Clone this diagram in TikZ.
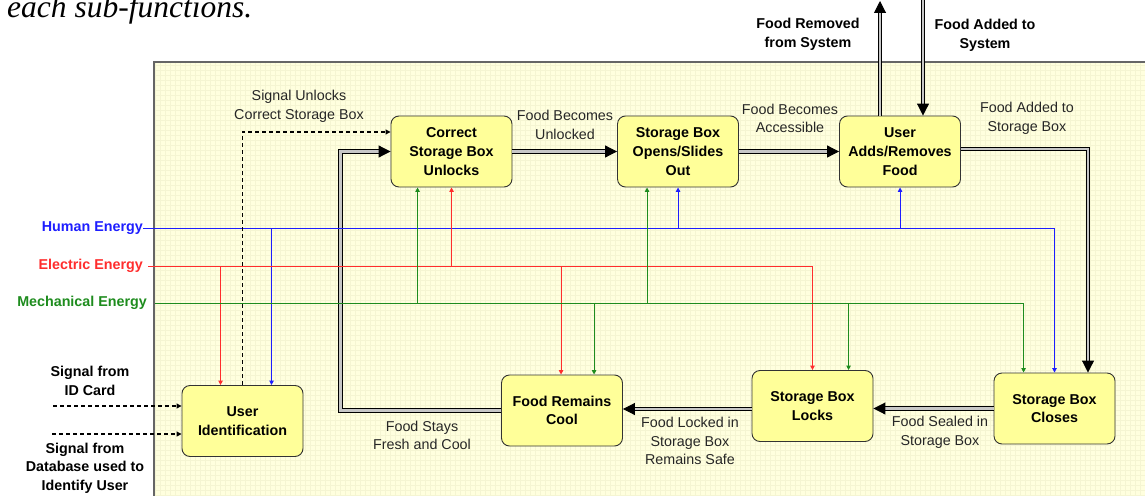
\documentclass[tikz,border=0pt]{standalone}
\usepackage{fontspec}
\setmainfont{Liberation Sans}
\newfontfamily\titleserif{Liberation Serif}
\usepackage{xcolor}
\usepackage{tikz}
\usetikzlibrary{arrows.meta}
\definecolor{boxfill}{RGB}{255,255,153}
\definecolor{paper}{RGB}{255,255,222}
\definecolor{paperline}{RGB}{245,245,210}
\definecolor{humblue}{RGB}{30,30,255}
\definecolor{elecred}{RGB}{255,45,45}
\definecolor{mechgreen}{RGB}{30,140,30}
\newcommand{\lbl}{\fontsize{14.3}{18.7}\selectfont}

\begin{document}
\begin{tikzpicture}[x=1pt, y=-1pt,
	func/.style={draw=black!80, fill=boxfill, rounded corners=8pt, line width=0.9pt,
		minimum width=121pt, minimum height=71pt, inner sep=0pt, align=center,
		font=\lbl\bfseries},
	txt/.style={align=center, inner sep=0pt, font=\lbl, text=black!85},
	boldtxt/.style={align=center, inner sep=0pt, font=\lbl\bfseries},
	flow/.style={line width=1pt, double=black!22, double distance=2.2pt,
		-{Triangle[length=12pt,width=12pt]}},
	sig/.style={line width=1.1pt, dash pattern=on 4pt off 3pt,
		-{Triangle[length=5pt,width=5pt]}},
	energy/.style={line width=1pt, -{Triangle[length=4.5pt,width=4.5pt]}}
	]
	\useasboundingbox (0,0) rectangle (1145,495);
	\node[anchor=base west, inner sep=0pt, font={\titleserif\itshape\fontsize{31.5}{36}\selectfont}]
		(title) at (7,18) {each sub-functions.};
	
	\fill[paper] (154,62) rectangle (1150,500);
	\draw[paperline, line width=0.4pt, step=5pt] (154,62) grid (1150,500);
	\draw[black!60, line width=1.2pt] (1150,62) -- (154,62) -- (154,500);
	
	\node[func] (unlock) at (451.5,151.5) {Correct\\Storage Box\\Unlocks};
	\node[func] (opens) at (678,151.5) {Storage Box\\Opens/Slides\\Out};
	\node[func] (adds) at (900,151.5) {User\\Adds/Removes\\Food};
	\node[func] (ident) at (242.5,421) {User\\Identification};
	\node[func] (cool) at (562,410.5) {Food Remains\\Cool};
	\node[func] (locks) at (812.5,406) {Storage Box\\Locks};
	\node[func] (closes) at (1054.5,408.5) {Storage Box\\Closes};
	
	\draw[flow] (unlock.east) -- (opens.west);
	\draw[flow] (opens.east) -- (adds.west);
	\draw[flow] ([yshift=2.5pt]adds.east) -| ([xshift=33.5pt]closes.north);
	\draw[flow] (closes.west) -- (closes.west -| locks.east);
	\draw[flow] ([yshift=-3pt]locks.west) -- ([yshift=-3pt]locks.west -| cool.east);
	\draw[flow] (cool.west) -| ([xshift=-50pt]unlock.west) -- (unlock.west);
	\coordinate (outtop) at (880,1);
	\coordinate (intop) at (923,-2);
	\draw[flow] (adds.north -| outtop) -- (outtop);
	\draw[flow] (intop) -- (intop |- adds.north);
	
	\node[anchor=east, inner sep=0pt, font=\lbl\bfseries, text=humblue] (human) at (143,228) {Human Energy};
	\node[anchor=east, inner sep=0pt, font=\lbl\bfseries, text=elecred] (elec) at (143,266) {Electric Energy};
	\node[anchor=east, inner sep=0pt, font=\lbl\bfseries, text=mechgreen] (mech) at (147,303) {Mechanical Energy};
	
	\draw[energy, humblue] (human.east) -| (closes.north);
	\draw[energy, humblue] ([xshift=90pt]ident.north west |- human.east) -- ([xshift=90pt]ident.north west);
	\draw[energy, humblue] ([xshift=61pt]opens.south west |- human.east) -- ([xshift=61pt]opens.south west);
	\draw[energy, humblue] ([xshift=61pt]adds.south west |- human.east) -- ([xshift=61pt]adds.south west);
	
	\draw[energy, elecred] ([xshift=5pt]elec.east) -| (locks.north);
	\draw[energy, elecred] ([xshift=39pt]ident.north west |- elec.east) -- ([xshift=39pt]ident.north west);
	\draw[energy, elecred] ([xshift=61pt]unlock.south west |- elec.east) -- ([xshift=61pt]unlock.south west);
	\draw[energy, elecred] ([xshift=60pt]cool.north west |- elec.east) -- ([xshift=60pt]cool.north west);
	
	\draw[energy, mechgreen] ([xshift=8pt]mech.east) -| ([xshift=30pt]closes.north west);
	\draw[energy, mechgreen] ([xshift=27pt]unlock.south west |- mech.east) -- ([xshift=27pt]unlock.south west);
	\draw[energy, mechgreen] ([xshift=30pt]opens.south west |- mech.east) -- ([xshift=30pt]opens.south west);
	\draw[energy, mechgreen] ([xshift=93pt]cool.north west |- mech.east) -- ([xshift=93pt]cool.north west);
	\draw[energy, mechgreen] ([xshift=97pt]locks.north west |- mech.east) -- ([xshift=97pt]locks.north west);
	
	\coordinate (idcard) at (53,406);
	\coordinate (dbase) at (52,434);
	\draw[sig] (ident.north) |- ([yshift=19.5pt]unlock.west);
	\draw[sig] (idcard) -- (idcard -| ident.west);
	\draw[sig] (dbase) -- (dbase -| ident.west);
	
	\node[txt] (sigtxt) at (299,106) {Signal Unlocks\\Correct Storage Box};
	\node[txt] (unlocktxt) at (565,125) {Food Becomes\\Unlocked};
	\node[txt] (accesstxt) at (790,118.5) {Food Becomes\\Accessible};
	\node[txt] (addedtxt) at (1027,118.5) {Food Added to\\Storage Box};
	\node[txt] (sealedtxt) at (940,432) {Food Sealed in\\Storage Box};
	\node[txt] (safetxt) at (690,441) {Food Locked in\\Storage Box\\Remains Safe};
	\node[txt] (freshtxt) at (422,435.5) {Food Stays\\Fresh and Cool};
	\node[boldtxt] (removedtxt) at (808,34) {Food Removed\\from System};
	\node[boldtxt] (addsystxt) at (985,35) {Food Added to\\System};
	\node[boldtxt] (idtxt) at (90,381) {Signal from\\ID Card};
	\node[boldtxt] (dbtxt) at (85,468) {Signal from\\Database used to\\Identify User};
\end{tikzpicture}
\end{document}
